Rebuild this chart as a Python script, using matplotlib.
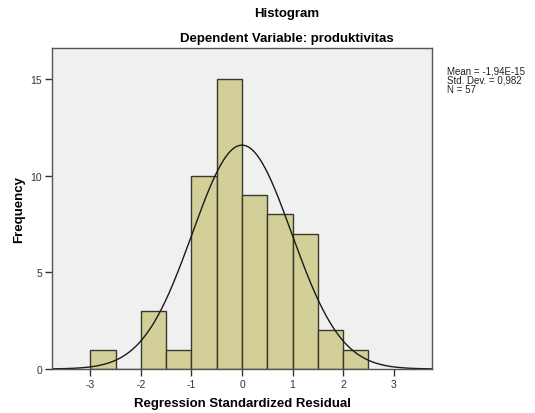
import numpy as np
import matplotlib.pyplot as plt

plt.rcParams['font.family'] = ['Liberation Sans', 'DejaVu Sans']

# histogram bins (left edges) and counts
bin_edges = [-3.0, -2.5, -2.0, -1.5, -1.0, -0.5, 0.0, 0.5, 1.0, 1.5, 2.0, 2.5]
counts = [1, 0, 3, 1, 10, 15, 9, 8, 7, 2, 1]
mean = -1.94e-15
std = 0.982
n = 57
xticks = [-3, -2, -1, 0, 1, 2, 3]
yticks = [0, 5, 10, 15]


def main():
    fig = plt.figure(figsize=(5.35, 4.14), dpi=100)
    ax = fig.add_axes([0.0972, 0.1063, 0.7103, 0.7753])
    ax.set_facecolor('#f0f0f0')

    width = bin_edges[1] - bin_edges[0]
    ax.bar(bin_edges[:-1], counts, width=width, align='edge',
           color='#d3cf99', edgecolor='#3a3a2a', linewidth=1.0)

    # normal curve scaled to counts
    xs = np.linspace(-3.76, 3.76, 400)
    ys = n * width / (std * np.sqrt(2 * np.pi)) * np.exp(-0.5 * ((xs - mean) / std) ** 2)
    ax.plot(xs, ys, color='#1a1a1a', linewidth=1.0)

    ax.set_xlim(-3.76, 3.76)
    ax.set_ylim(0, 16.6)
    ax.set_xticks(xticks)
    ax.set_xticklabels([str(t) for t in xticks])
    ax.set_yticks(yticks)
    ax.tick_params(direction='out', length=5, width=1, labelsize=7.5,
                   colors='#333333', pad=2)
    for s in ax.spines.values():
        s.set_color('#555555')
        s.set_linewidth(1.0)

    ax.set_xlabel('Regression Standardized Residual', fontsize=9.5,
                  fontweight='bold', labelpad=6)
    ax.set_ylabel('Frequency', fontsize=9.5, fontweight='bold')
    ax.yaxis.set_label_coords(-0.072, 0.5)

    fig.text(0.536, 0.966, 'Histogram', ha='center', va='center',
             fontsize=9.5, fontweight='bold')
    fig.text(0.536, 0.905, 'Dependent Variable: produktivitas', ha='center',
             va='center', fontsize=9.5, fontweight='bold')

    fig.text(0.835, 0.805,
             'Mean = -1,94E-15\nStd. Dev. = 0,982\nN = 57',
             ha='left', va='center', fontsize=7, linespacing=0.95,
             color='#222222')

    plt.savefig('out.png', dpi=100)


if __name__ == "__main__":
    main()
